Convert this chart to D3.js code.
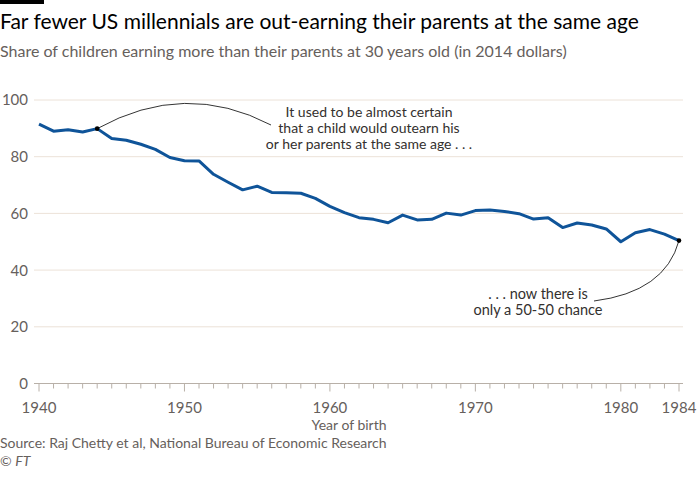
<!DOCTYPE html>
<html><head><meta charset="utf-8">
<script src="https://cdn.jsdelivr.net/npm/d3@7"></script>
<style>
body{margin:0;background:#fff;}
svg{display:block;font-family:"Lato","Noto Sans",sans-serif;}
</style></head>
<body>
<svg id="c" width="700" height="478"></svg>
<script>
const years = d3.range(1940, 1985);
const shares = [91.5, 89.0, 89.5, 88.7, 89.9, 86.4, 85.8, 84.4, 82.6, 79.7,
  78.6, 78.5, 73.8, 71.0, 68.3, 69.6, 67.4, 67.3, 67.1, 65.3,
  62.5, 60.3, 58.5, 57.9, 56.7, 59.4, 57.7, 57.9, 60.1, 59.4,
  61.0, 61.2, 60.7, 59.9, 58.0, 58.5, 55.0, 56.6, 55.9, 54.5,
  50.0, 53.2, 54.3, 52.7, 50.4];
const yTicks = [0, 20, 40, 60, 80, 100];
const xLabels = [1940, 1950, 1960, 1970, 1980, 1984];
const title = "Far fewer US millennials are out-earning their parents at the same age";
const subtitle = "Share of children earning more than their parents at 30 years old (in 2014 dollars)";
const note1 = ["It used to be almost certain", "that a child would outearn his", "or her parents at the same age . . ."];
const note2 = [". . . now there is", "only a 50-50 chance"];
const source = "Source: Raj Chetty et al, National Bureau of Economic Research";

const svg = d3.select("#c");
const x = d3.scaleLinear().domain([1940, 1984]).range([39, 679]);
const y = d3.scaleLinear().domain([0, 100]).range([383.5, 100]);

svg.append("rect").attr("x",0).attr("y",0).attr("width",44).attr("height",4).attr("fill","#000");
svg.append("text").attr("x",0).attr("y",29).attr("font-size",21).attr("fill","#000").text(title);
svg.append("text").attr("x",0).attr("y",56.5).attr("font-size",16).attr("fill","#66605c").text(subtitle);

// grid
svg.append("g").selectAll("line").data(yTicks.filter(d=>d>0)).join("line")
  .attr("x1",34).attr("x2",683).attr("y1",d=>y(d)).attr("y2",d=>y(d))
  .attr("stroke","#ece2d8").attr("stroke-width",1);
svg.append("g").selectAll("text").data(yTicks).join("text")
  .attr("x",28).attr("y",d=>y(d)).attr("dy","0.36em").attr("text-anchor","end")
  .attr("font-size",15).attr("fill","#66605c").text(d=>d);

// x axis
const xa = svg.append("g").attr("transform",`translate(0,${y(0)})`);
xa.append("line").attr("x1",34).attr("x2",683).attr("stroke","#b8b0a8").attr("stroke-width",1);
xa.selectAll("line.t").data(years).join("line").attr("class","t")
  .attr("x1",d=>x(d)).attr("x2",d=>x(d)).attr("y1",0)
  .attr("y2",d=>xLabels.includes(d)?8:5).attr("stroke","#b8b0a8").attr("stroke-width",1);
xa.selectAll("text").data(xLabels).join("text")
  .attr("x",d=>x(d)).attr("y",29).attr("text-anchor","middle")
  .attr("font-size",15).attr("fill","#66605c").text(d=>d);
svg.append("text").attr("x",349).attr("y",430).attr("text-anchor","middle")
  .attr("font-size",14).attr("fill","#66605c").text("Year of birth");
svg.append("text").attr("x",0).attr("y",448).attr("font-size",14).attr("fill","#66605c").text(source);
svg.append("text").attr("x",0).attr("y",466).attr("font-size",14).attr("fill","#66605c").text("© ").append("tspan").attr("font-style","italic").text("FT");

// line
const data = years.map((yr,i)=>({yr, v:shares[i]}));
svg.append("path").datum(data)
  .attr("fill","none").attr("stroke","#0f5499").attr("stroke-width",3).attr("stroke-linejoin","round")
  .attr("d", d3.line().x(d=>x(d.yr)).y(d=>y(d.v)));

// annotations
const p1 = data[4], p2 = data[data.length-1];
const a1x = x(p1.yr), a1y = y(p1.v);
const path1 = d3.path(); path1.moveTo(a1x,a1y); path1.quadraticCurveTo(185,80,271,125);
svg.append("path").attr("d",path1.toString()).attr("fill","none").attr("stroke","#000").attr("stroke-width",0.8);
const a2x = x(p2.yr), a2y = y(p2.v);
const path2 = d3.path(); path2.moveTo(a2x,a2y); path2.quadraticCurveTo(665,292,594,301);
svg.append("path").attr("d",path2.toString()).attr("fill","none").attr("stroke","#000").attr("stroke-width",0.8);
svg.selectAll("circle").data([p1,p2]).join("circle")
  .attr("cx",d=>x(d.yr)).attr("cy",d=>y(d.v)).attr("r",2.3).attr("fill","#000");

svg.append("g").selectAll("text").data(note1).join("text")
  .attr("x",369).attr("y",(d,i)=>112+i*16).attr("dy","0.35em").attr("text-anchor","middle")
  .attr("font-size",14).attr("fill","#33302e").text(d=>d);
svg.append("g").selectAll("text").data(note2).join("text")
  .attr("x",538).attr("y",(d,i)=>293.5+i*16).attr("dy","0.35em").attr("text-anchor","middle")
  .attr("font-size",14.5).attr("fill","#33302e").text(d=>d);
</script>
</body></html>
